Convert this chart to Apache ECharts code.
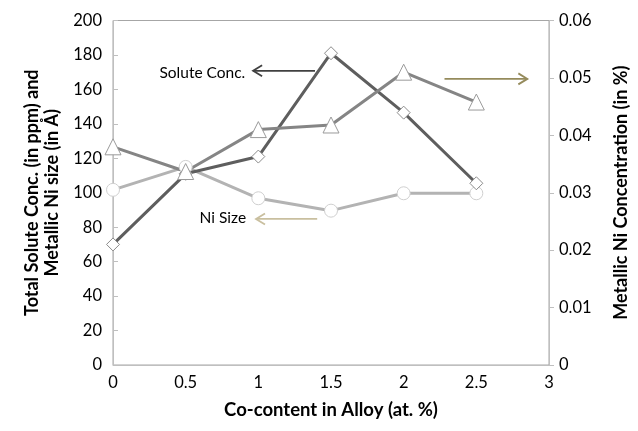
<!DOCTYPE html>
<html><head><meta charset="utf-8">
<script src="https://cdn.jsdelivr.net/npm/echarts@6/dist/echarts.min.js"></script>
<style>html,body{margin:0;padding:0;background:#fff}#c{width:638px;height:431px}</style>
</head><body><div id="c"></div>
<script>
const coContent = [0, 0.5, 1, 1.5, 2, 2.5];
const soluteConc = [70, 111, 121, 181, 146.5, 105.5];
const niSize = [101.7, 115, 96.8, 89.6, 99.7, 99.7];
const niConc = [0.038, 0.0337, 0.041, 0.0418, 0.051, 0.0458];
const leftTicks = [0, 200, 20];
const rightTicks = [0, 0.06, 0.01];
const xTicks = [0, 3, 0.5];
// annotations in data units: [x1, y1, x2, y2] arrow from (x1,y1) pointing to (x2,y2)
const soluteArrow = [1.39, 170.8, 0.964, 170.8];
const soluteLabel = [0.91, 169.8, 'Solute Conc.'];
const niArrow = [1.405, 84.8, 0.984, 84.8];
const niLabel = [0.916, 85.4, 'Ni Size'];
const concArrow = [2.281, 166.1, 2.851, 166.1];

const FONT = 'Lato';
const chart = echarts.init(document.getElementById('c'), null, {renderer: 'canvas'});
const pairs = (ys) => coContent.map((x, i) => [x, ys[i]]);
chart.setOption({
  animation: false,
  textStyle: {fontFamily: FONT},
  grid: {left: 113, right: 83, top: 20.5, bottom: 66, show: true, borderColor: '#a6a6a6', borderWidth: 1},
  xAxis: {
    type: 'value', min: xTicks[0], max: xTicks[1], interval: xTicks[2],
    name: 'Co-content in Alloy (at. %)', nameLocation: 'middle', nameGap: 36,
    nameTextStyle: {fontFamily: FONT, fontWeight: 'bold', fontSize: 18.5, color: '#000'},
    axisLine: {lineStyle: {color: '#bfbfbf'}}, axisTick: {show: false},
    axisLabel: {color: '#000', fontSize: 16.5, margin: 9, fontFamily: FONT},
    splitLine: {show: false}
  },
  yAxis: [{
    type: 'value', min: leftTicks[0], max: leftTicks[1], interval: leftTicks[2],
    name: 'Total Solute Conc. (in ppm) and\nMetallic Ni size (in Å)', nameLocation: 'middle', nameGap: 51,
    nameTextStyle: {fontFamily: FONT, fontWeight: 'bold', fontSize: 18, color: '#000', lineHeight: 20},
    axisLine: {show: true, lineStyle: {color: '#bfbfbf'}},
    axisTick: {show: true, inside: true, length: 5, lineStyle: {color: '#bfbfbf'}},
    axisLabel: {color: '#000', fontSize: 16.5, margin: 11, fontFamily: FONT},
    splitLine: {show: false}
  }, {
    type: 'value', position: 'right', min: rightTicks[0], max: rightTicks[1], interval: rightTicks[2],
    name: 'Metallic Ni Concentration (in %)', nameLocation: 'middle', nameGap: 63,
    nameTextStyle: {fontFamily: FONT, fontWeight: 'bold', fontSize: 18, color: '#000'},
    axisLine: {show: true, lineStyle: {color: '#bfbfbf'}},
    axisTick: {show: true, inside: false, length: 5, lineStyle: {color: '#bfbfbf'}},
    axisLabel: {color: '#000', fontSize: 16.5, margin: 10, fontFamily: FONT},
    splitLine: {show: false}
  }],
  series: [{
    name: 'Ni Size', type: 'line', yAxisIndex: 0, data: pairs(niSize),
    symbol: 'circle', symbolSize: 13,
    lineStyle: {color: '#b3b3b3', width: 3},
    itemStyle: {color: '#fff', borderColor: '#cfcfcf', borderWidth: 1}
  }, {
    name: 'Solute Conc.', type: 'line', yAxisIndex: 0, data: pairs(soluteConc),
    symbol: 'diamond', symbolSize: 13,
    lineStyle: {color: '#5e5e5e', width: 3},
    itemStyle: {color: '#fff', borderColor: '#8a8a8a', borderWidth: 1}
  }, {
    name: 'Metallic Ni Concentration', type: 'line', yAxisIndex: 1, data: pairs(niConc),
    symbol: 'triangle', symbolSize: 16,
    lineStyle: {color: '#858585', width: 3},
    itemStyle: {color: '#fff', borderColor: '#9a9a9a', borderWidth: 1}
  }]
});

function px(x, y) { return chart.convertToPixel({xAxisIndex: 0, yAxisIndex: 0}, [x, y]); }
function arrow(a, color) {
  const p1 = px(a[0], a[1]), p2 = px(a[2], a[3]);
  const dir = Math.sign(p2[0] - p1[0]);
  return [
    {type: 'line', shape: {x1: p1[0], y1: p1[1], x2: p2[0], y2: p2[1]}, style: {stroke: color, lineWidth: 1.8}, z: 100},
    {type: 'polyline', shape: {points: [[p2[0] - dir * 9, p2[1] - 5.5], [p2[0], p2[1]], [p2[0] - dir * 9, p2[1] + 5.5]]}, style: {stroke: color, lineWidth: 1.8, fill: null}, z: 100}
  ];
}
function label(l) {
  const p = px(l[0], l[1]);
  return {type: 'text', x: p[0], y: p[1], style: {text: l[2], fill: '#000', font: '15.5px ' + FONT, align: 'right', verticalAlign: 'middle'}, z: 100};
}
chart.setOption({
  graphic: [].concat(
    arrow(soluteArrow, '#404040'),
    arrow(niArrow, '#c9bf9f'),
    arrow(concArrow, '#958b5c'),
    [label(soluteLabel), label(niLabel)]
  )
});
</script></body></html>
